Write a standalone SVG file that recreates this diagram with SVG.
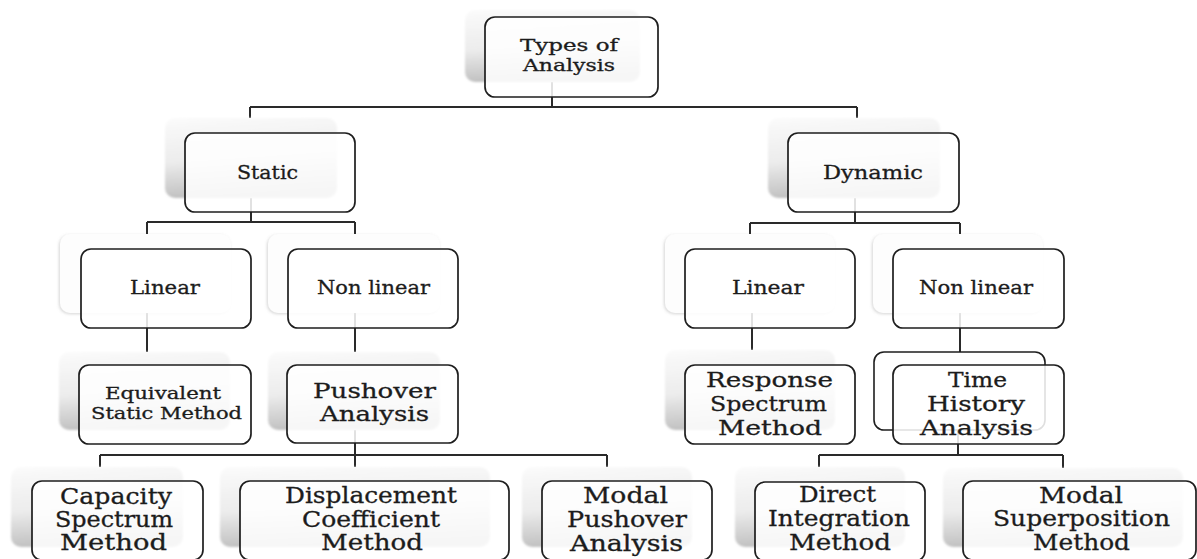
<svg xmlns="http://www.w3.org/2000/svg" width="1197" height="559" viewBox="0 0 1197 559">
<defs>
<linearGradient id="g" x1="0" y1="0" x2="0.15" y2="1">
<stop offset="0" stop-color="#fbfbfb"/>
<stop offset="0.55" stop-color="#ececec"/>
<stop offset="1" stop-color="#c0c0c0"/>
</linearGradient>
<filter id="soft" x="-10%" y="-10%" width="120%" height="120%">
<feGaussianBlur stdDeviation="1.2"/>
</filter>
<filter id="faint" x="-10%" y="-10%" width="120%" height="120%">
<feDropShadow dx="-1" dy="1" stdDeviation="1.5" flood-color="#888" flood-opacity="0.35"/>
</filter>
<style>
.bk{fill:url(#g);filter:url(#soft)}
.bw{fill:#fdfdfd;filter:url(#faint)}
.bd{fill:#ffffff;stroke:#1e1e1e;stroke-width:1.6}
.fr{fill:#ffffff;fill-opacity:0.86;stroke:#1e1e1e;stroke-width:1.7}
.c{fill:none;stroke:#2a2a2a;stroke-width:2}
text{font-family:"DejaVu Serif","Liberation Serif",serif;fill:#1c1c1c;stroke:#1c1c1c;stroke-width:0.3}
.s{font-size:18px}
.t{font-size:16px}
.m{font-size:16px}
.l{font-size:21px}
.b{font-size:22px}
</style>
</defs>
<rect width="1197" height="559" fill="#ffffff"/>
<g id="connectors">
<path class="c" d="M552,82V107M250,107H857M250,107V118M857,107V118"/>
<path class="c" d="M251,198V222M147,222H355M147,222V234M355,222V234"/>
<path class="c" d="M855,198V223M750,223H960M750,223V234M960,223V234"/>
<path class="c" d="M147,313V352M355,313V352M752,313V350M960,313V352"/>
<path class="c" d="M355,430V467M100,455H607M100,455V467M607,455V467"/>
<path class="c" d="M958,430V455M819,455H1063M819,455V467M1063,455V468"/>
</g>
<g id="types">
<rect class="bk" x="465" y="10" width="175" height="72" rx="10"/>
<rect class="fr" x="485" y="17" width="173" height="80" rx="10"/>
<text class="t" x="520" y="51" textLength="98" lengthAdjust="spacingAndGlyphs">Types of</text>
<text class="t" x="523" y="71" textLength="92" lengthAdjust="spacingAndGlyphs">Analysis</text>
</g>
<g id="static">
<rect class="bk" x="165" y="118" width="172" height="80" rx="10"/>
<rect class="fr" x="185" y="133" width="170" height="79" rx="10"/>
<text class="s" x="237" y="179" textLength="61" lengthAdjust="spacingAndGlyphs">Static</text>
</g>
<g id="dynamic">
<rect class="bk" x="768" y="118" width="172" height="80" rx="10"/>
<rect class="fr" x="788" y="133" width="171" height="79" rx="10"/>
<text class="s" x="823" y="179" textLength="100" lengthAdjust="spacingAndGlyphs">Dynamic</text>
</g>
<g id="static-linear">
<rect class="bw" x="60" y="234" width="171" height="79" rx="10"/>
<rect class="fr" x="81" y="249" width="170" height="79" rx="10"/>
<text class="s" x="130" y="294" textLength="70" lengthAdjust="spacingAndGlyphs">Linear</text>
</g>
<g id="static-nonlinear">
<rect class="bw" x="268" y="234" width="172" height="79" rx="10"/>
<rect class="fr" x="288" y="249" width="170" height="79" rx="10"/>
<text class="s" x="317" y="294" textLength="113" lengthAdjust="spacingAndGlyphs">Non linear</text>
</g>
<g id="dynamic-linear">
<rect class="bw" x="665" y="234" width="170" height="79" rx="10"/>
<rect class="fr" x="685" y="249" width="170" height="79" rx="10"/>
<text class="s" x="732" y="294" textLength="72" lengthAdjust="spacingAndGlyphs">Linear</text>
</g>
<g id="dynamic-nonlinear">
<rect class="bw" x="873" y="234" width="170" height="79" rx="10"/>
<rect class="fr" x="893" y="249" width="171" height="79" rx="10"/>
<text class="s" x="919" y="294" textLength="114" lengthAdjust="spacingAndGlyphs">Non linear</text>
</g>
<g id="equivalent">
<rect class="bk" x="59" y="352" width="171" height="78" rx="10"/>
<rect class="fr" x="79" y="365" width="172" height="79" rx="10"/>
<text class="m" x="105" y="399" textLength="116" lengthAdjust="spacingAndGlyphs">Equivalent</text>
<text class="m" x="91" y="419" textLength="151" lengthAdjust="spacingAndGlyphs">Static Method</text>
</g>
<g id="pushover">
<rect class="bk" x="268" y="352" width="172" height="78" rx="10"/>
<rect class="fr" x="287" y="365" width="171" height="78" rx="10"/>
<text class="l" x="313" y="398" textLength="123" lengthAdjust="spacingAndGlyphs">Pushover</text>
<text class="l" x="320" y="421" textLength="109" lengthAdjust="spacingAndGlyphs">Analysis</text>
</g>
<g id="response">
<rect class="bk" x="665" y="350" width="170" height="80" rx="10"/>
<rect class="fr" x="685" y="365" width="170" height="79" rx="10"/>
<text class="l" x="706" y="387" textLength="127" lengthAdjust="spacingAndGlyphs">Response</text>
<text class="l" x="710" y="411" textLength="117" lengthAdjust="spacingAndGlyphs">Spectrum</text>
<text class="l" x="718" y="435" textLength="104" lengthAdjust="spacingAndGlyphs">Method</text>
</g>
<g id="time-history">
<rect class="bd" x="874" y="352" width="171" height="78" rx="10"/>
<rect class="fr" x="893" y="365" width="171" height="79" rx="10"/>
<text class="l" x="948" y="387" textLength="59" lengthAdjust="spacingAndGlyphs">Time</text>
<text class="l" x="927" y="411" textLength="98" lengthAdjust="spacingAndGlyphs">History</text>
<text class="l" x="920" y="435" textLength="113" lengthAdjust="spacingAndGlyphs">Analysis</text>
</g>
<g id="capacity">
<rect class="bk" x="11" y="467" width="172" height="80" rx="10"/>
<rect class="fr" x="32" y="481" width="171" height="79" rx="10"/>
<text class="b" x="60" y="504" textLength="112" lengthAdjust="spacingAndGlyphs">Capacity</text>
<text class="b" x="55" y="527" textLength="118" lengthAdjust="spacingAndGlyphs">Spectrum</text>
<text class="b" x="60" y="550" textLength="107" lengthAdjust="spacingAndGlyphs">Method</text>
</g>
<g id="displacement">
<rect class="bk" x="220" y="467" width="270" height="80" rx="10"/>
<rect class="fr" x="240" y="481" width="269" height="79" rx="10"/>
<text class="b" x="285" y="503" textLength="172" lengthAdjust="spacingAndGlyphs">Displacement</text>
<text class="b" x="302" y="527" textLength="138" lengthAdjust="spacingAndGlyphs">Coefficient</text>
<text class="b" x="321" y="550" textLength="102" lengthAdjust="spacingAndGlyphs">Method</text>
</g>
<g id="modal-pushover">
<rect class="bk" x="522" y="467" width="170" height="80" rx="10"/>
<rect class="fr" x="542" y="481" width="170" height="79" rx="10"/>
<text class="b" x="583" y="503" textLength="85" lengthAdjust="spacingAndGlyphs">Modal</text>
<text class="b" x="567" y="527" textLength="120" lengthAdjust="spacingAndGlyphs">Pushover</text>
<text class="b" x="570" y="551" textLength="113" lengthAdjust="spacingAndGlyphs">Analysis</text>
</g>
<g id="direct-integration">
<rect class="bk" x="735" y="467" width="170" height="80" rx="10"/>
<rect class="fr" x="755" y="482" width="170" height="79" rx="10"/>
<text class="b" x="799" y="502" textLength="77" lengthAdjust="spacingAndGlyphs">Direct</text>
<text class="b" x="768" y="526" textLength="142" lengthAdjust="spacingAndGlyphs">Integration</text>
<text class="b" x="789" y="550" textLength="102" lengthAdjust="spacingAndGlyphs">Method</text>
</g>
<g id="modal-superposition">
<rect class="bk" x="943" y="468" width="240" height="79" rx="10"/>
<rect class="fr" x="963" y="481" width="233" height="79" rx="10"/>
<text class="b" x="1039" y="503" textLength="84" lengthAdjust="spacingAndGlyphs">Modal</text>
<text class="b" x="993" y="526" textLength="177" lengthAdjust="spacingAndGlyphs">Superposition</text>
<text class="b" x="1033" y="550" textLength="97" lengthAdjust="spacingAndGlyphs">Method</text>
</g>
</svg>
